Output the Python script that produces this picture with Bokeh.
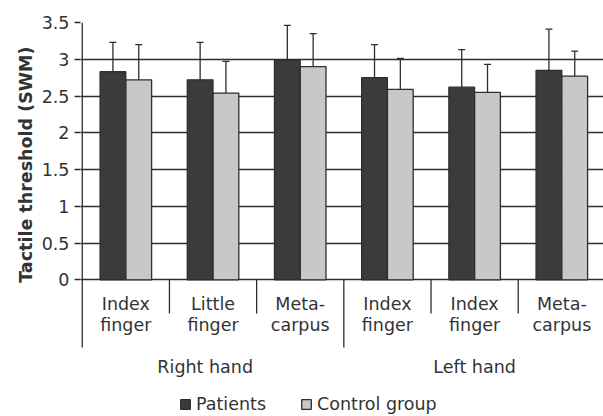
from bokeh.plotting import figure
from bokeh.models import (ColumnDataSource, Range1d, FixedTicker, Whisker, TeeHead,
                          Legend, LegendItem, Title)
from bokeh.core.properties import value
from bokeh.embed import file_html
from bokeh.resources import INLINE

# ---- data ----
categories = ["Index\nfinger", "Little\nfinger", "Meta-\ncarpus",
              "Index\nfinger", "Index\nfinger", "Meta-\ncarpus"]
groups = ["Right hand", "Left hand"]
patients = [2.83, 2.72, 2.99, 2.75, 2.62, 2.85]
patients_sd = [0.40, 0.51, 0.47, 0.45, 0.51, 0.56]
control = [2.72, 2.54, 2.90, 2.59, 2.55, 2.77]
control_sd = [0.48, 0.43, 0.45, 0.42, 0.38, 0.34]
y_ticks = [0, 0.5, 1, 1.5, 2, 2.5, 3, 3.5]
series_names = ["Patients", "Control group"]
y_label = "Tactile threshold (SWM)"

FONT = "DejaVu Sans"
FS = "17.5px"
TXT = "#333333"
DARK = "#3b3b3b"
LIGHT = "#c8c8c8"
LINE = "#2e2e2e"

n = len(categories)
centers = [i + 0.5 for i in range(n)]
bw = 0.295
off = 0.148

p = figure(width=603, height=416, output_backend="svg", toolbar_location=None,
           x_range=Range1d(-0.02, 5.978), y_range=Range1d(-1.86, 3.5),
           x_axis_type=None, min_border_left=80, min_border_right=0,
           min_border_top=22, min_border_bottom=0)
p.outline_line_color = None
p.background_fill_color = "white"

p.xgrid.visible = False
p.ygrid.ticker = FixedTicker(ticks=y_ticks)
p.ygrid.grid_line_color = LINE
p.ygrid.grid_line_width = 1.3

yax = p.yaxis[0]
yax.ticker = FixedTicker(ticks=y_ticks)
yax.major_label_overrides = {0: "0", 1: "1", 2: "2", 3: "3"}
yax.axis_line_color = None
yax.major_tick_line_color = LINE
yax.major_tick_line_width = 1.3
yax.major_tick_out = 6
yax.major_tick_in = 0
yax.minor_tick_line_color = None
yax.major_label_text_font = FONT
yax.major_label_text_font_size = FS
yax.major_label_text_color = TXT
yax.major_label_standoff = 5

# y axis title: end aligned near the top of the 0-3.5 part of the axis
ytitle = Title(text=y_label, align="right", offset=24, standoff=5,
               text_font=FONT, text_font_size="17.5px", text_font_style="bold",
               text_color=TXT)
p.add_layout(ytitle, "left")

src = ColumnDataSource(dict(
    xp=[c - off for c in centers], xc=[c + off for c in centers],
    patients=patients, control=control,
    pu=[v + s for v, s in zip(patients, patients_sd)],
    cu=[v + s for v, s in zip(control, control_sd)],
))

r1 = p.vbar(x="xp", top="patients", bottom=0, width=bw, source=src,
            fill_color=DARK, line_color=LINE, line_width=1.3)
r2 = p.vbar(x="xc", top="control", bottom=0, width=bw, source=src,
            fill_color=LIGHT, line_color=LINE, line_width=1.3)

for base, lower, upper in (("xp", "patients", "pu"), ("xc", "control", "cu")):
    w = Whisker(source=src, base=base, lower=lower, upper=upper,
                line_color=LINE, line_width=1.3, lower_head=None,
                upper_head=TeeHead(size=7, line_color=LINE, line_width=1.3),
                level="glyph")
    p.add_layout(w)

p.segment(x0=[0], y0=[-0.92], x1=[0], y1=[3.5], line_color=LINE, line_width=1.3)
inner = [1, 2, 4, 5]
p.segment(x0=inner, y0=[0] * len(inner), x1=inner, y1=[-0.46] * len(inner),
          line_color=LINE, line_width=1.3)
p.segment(x0=[3], y0=[0], x1=[3], y1=[-0.92], line_color=LINE, line_width=1.3)

line1 = [c.split("\n")[0] for c in categories]
line2 = [c.split("\n")[1] for c in categories]
p.text(x=centers, y=[-0.336] * n, text=line1, text_align="center",
       text_baseline="alphabetic", text_font=value(FONT),
       text_font_size=FS, text_color=TXT)
p.text(x=centers, y=[-0.621] * n, text=line2, text_align="center",
       text_baseline="alphabetic", text_font=value(FONT),
       text_font_size=FS, text_color=TXT)

gcent = [sum(centers[0:3]) / 3 - 0.09, sum(centers[3:6]) / 3]
p.text(x=gcent, y=[-1.18, -1.18], text=groups, text_align="center",
       text_baseline="alphabetic", text_font=value(FONT),
       text_font_size=FS, text_color=TXT)

legend = Legend(items=[LegendItem(label=series_names[0], renderers=[r1]),
                       LegendItem(label=series_names[1], renderers=[r2])],
                orientation="horizontal", location=(99, 2),
                glyph_width=12, glyph_height=12, label_standoff=5, spacing=34,
                padding=0, margin=0, border_line_color=None,
                background_fill_alpha=0, label_text_font=FONT,
                label_text_font_size=FS, label_text_color=TXT,
                label_height=20)
p.add_layout(legend)

open("out.html", "w").write(file_html(p, INLINE))
